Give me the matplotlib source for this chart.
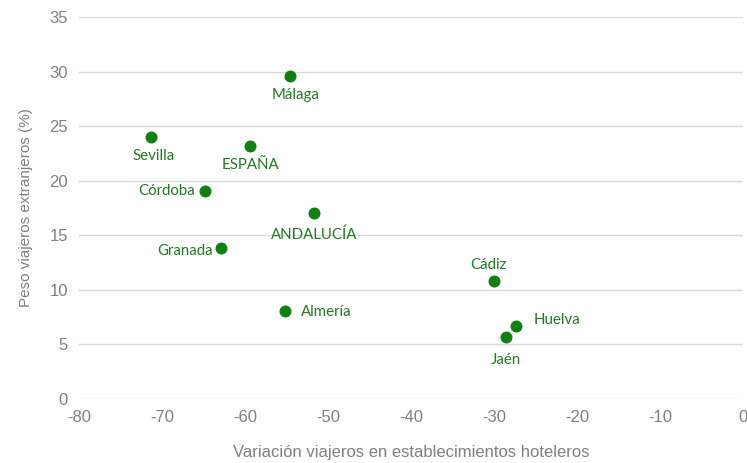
import matplotlib
matplotlib.use("Agg")
import matplotlib.pyplot as plt

plt.rcParams["axes.unicode_minus"] = False

# data
names = ["Málaga", "Sevilla", "ESPAÑA", "Córdoba", "ANDALUCÍA",
         "Granada", "Almería", "Cádiz", "Huelva", "Jaén"]
variacion = [-54.6, -71.3, -59.4, -64.8, -51.7, -62.9, -55.2, -30.0, -27.3, -28.6]
peso = [29.6, 24.0, 23.2, 19.1, 17.0, 13.8, 8.1, 10.8, 6.7, 5.7]

# label placement (pixel offsets, alignment)
offsets = {
    "Málaga": (6, -19, "center"),
    "Sevilla": (2, -19, "center"),
    "ESPAÑA": (0, -19, "center"),
    "Córdoba": (-10, 0, "right"),
    "ANDALUCÍA": (0, -21, "center"),
    "Granada": (-8, -3, "right"),
    "Almería": (16, -1, "left"),
    "Cádiz": (-6, 16, "center"),
    "Huelva": (17, 6, "left"),
    "Jaén": (0, -23, "center"),
}

fig = plt.figure(figsize=(7.47, 4.63), dpi=100)
ax = fig.add_axes([0.1058, 0.1382, 0.8888, 0.8251])

ax.scatter(variacion, peso, s=58, color="#108010", zorder=3)

for n, xv, yv in zip(names, variacion, peso):
    dx, dy, ha = offsets[n]
    ax.annotate(n, (xv, yv), xytext=(dx, dy), textcoords="offset pixels",
                ha=ha, va="center", fontsize=10.8, color="#1e7b1e", family="Lato")

ax.set_xlim(-80, 0)
ax.set_ylim(0, 35)
ax.set_xticks(range(-80, 1, 10))
ax.set_yticks(range(0, 36, 5))
ax.grid(axis="y", color="#d9d9d9", linewidth=1)
ax.set_axisbelow(True)
for s in ax.spines.values():
    s.set_visible(False)
ax.tick_params(length=0, labelsize=12, labelcolor="#7f7f7f", pad=8)
for lab in ax.get_xticklabels() + ax.get_yticklabels():
    lab.set_family("Liberation Sans")

ax.set_xlabel("Variación viajeros en establecimientos hoteleros",
              fontsize=12, color="#7f7f7f", family="Liberation Sans", labelpad=14)
ax.set_ylabel("Peso viajeros extranjeros (%)",
              fontsize=11, color="#7f7f7f", family="Liberation Sans", labelpad=12)

fig.savefig("out.png", dpi=100)
